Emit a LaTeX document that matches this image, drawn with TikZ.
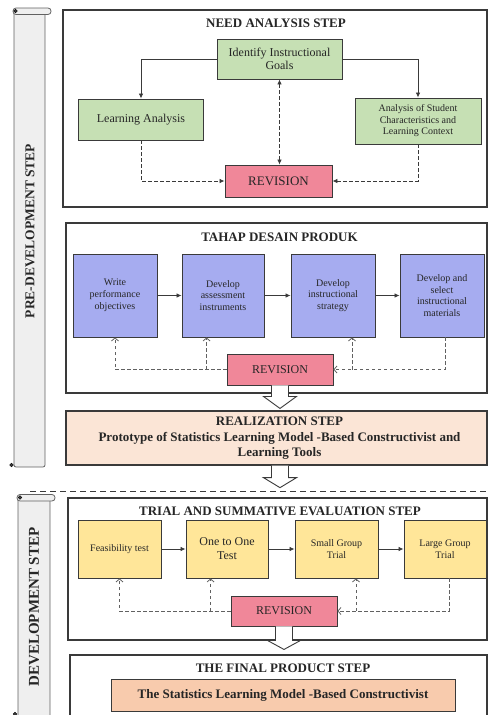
\documentclass[tikz,border=0pt]{standalone}
\usepackage{fontspec}
\setmainfont{Liberation Serif}
\usetikzlibrary{arrows.meta,calc}
\definecolor{gfill}{HTML}{C6E0B4}
\definecolor{bfill}{HTML}{A6ACF0}
\definecolor{pfill}{HTML}{F08799}
\definecolor{yfill}{HTML}{FFE699}
\definecolor{lpeach}{HTML}{FBE5D6}
\definecolor{dpeach}{HTML}{F8CBAD}
\definecolor{scrollfill}{HTML}{EFEFEF}
\definecolor{edgec}{HTML}{3A3A3A}
\tikzset{
  frame/.style={draw=edgec, line width=1.3pt, inner sep=0pt},
  stepbox/.style={draw=edgec, line width=0.9pt, align=center, inner sep=2pt, text=black!85},
  gbox/.style={stepbox, fill=gfill},
  bbox/.style={stepbox, fill=bfill, minimum width=84pt, minimum height=83pt, font=\fontsize{10}{11.8}\selectfont},
  ybox/.style={stepbox, fill=yfill, minimum width=83pt, minimum height=58pt, font=\fontsize{10}{11.5}\selectfont},
  revbox/.style={stepbox, fill=pfill, minimum width=106pt, minimum height=31pt, font=\fontsize{12}{13}\selectfont},
  title/.style={font=\bfseries\fontsize{13}{14}\selectfont, text=black!85, inner sep=0pt},
  solidarr/.style={draw=edgec, line width=0.8pt, -{Latex[length=5pt,width=4.5pt]}},
  dasharr/.style={draw=edgec, line width=0.8pt, dash pattern=on 3.5pt off 2.5pt, -{Latex[length=5pt,width=4.5pt]}},
  openarr/.style={draw=edgec!80, line width=0.8pt, dash pattern=on 3.5pt off 2.5pt, -{Straight Barb[length=3pt,width=7pt]}},
  blockarrow/.style={draw=edgec, line width=0.9pt, fill=white, line join=miter},
  scroll/.style={draw=edgec!80, line width=0.8pt, fill=scrollfill},
}
\begin{document}
\begin{tikzpicture}[x=1pt,y=-1pt]
\useasboundingbox (0,0) rectangle (489,715);

% ---------- scrolls ----------
\filldraw[scroll, rounded corners=2pt] (14,12) rectangle (45,467);
\filldraw[scroll, rounded corners=3pt] (13,8) rectangle (51,14.5);
\filldraw[fill=edgec] (15.5,11) circle (1.8pt);
\filldraw[fill=edgec] (11.5,465) circle (1.8pt);
\node[rotate=90, font=\bfseries\fontsize{13.5}{14}\selectfont, text=black!85] (pre) at (30,231) {PRE-DEVELOPMENT STEP};

\filldraw[scroll, rounded corners=2pt] (18,498) rectangle (50,722);
\filldraw[scroll, rounded corners=3pt] (17,494.5) rectangle (55,501);
\filldraw[fill=edgec] (20,497.5) circle (1.8pt);
\filldraw[fill=edgec] (15,714) circle (1.8pt);
\node[rotate=90, font=\bfseries\fontsize{15}{16}\selectfont, text=black!85] (dev) at (34,607) {DEVELOPMENT STEP};

% ---------- box 1 ----------
\node[frame, minimum width=424pt, minimum height=197pt] (box1) at (275,108.5) {};
\node[title] (t1) at (276,23) {NEED ANALYSIS STEP};
\node[gbox, minimum width=125pt, minimum height=40pt, font=\fontsize{12}{13.5}\selectfont] (ia) at (279.5,59) {Identify Instructional\\Goals};
\node[gbox, minimum width=125pt, minimum height=41pt, font=\fontsize{12}{13}\selectfont] (la) at (141,119.5) {Learning Analysis};
\node[gbox, minimum width=126pt, minimum height=46pt, font=\fontsize{10}{11.5}\selectfont] (as) at (418,121) {Analysis of Student\\Characteristics and\\Learning Context};
\node[revbox, minimum width=107pt, minimum height=32pt, font=\fontsize{13}{14}\selectfont] (rev1) at (278.5,181) {REVISION};
\draw[solidarr] (ia.west) -| (la.north);
\draw[solidarr] (ia.east) -| (as.north);
\draw[dasharr] (la.south) |- (rev1.west);
\draw[dasharr] (as.south) |- (rev1.east);
\draw[dasharr, {Latex[length=5pt,width=4.5pt]}-{Latex[length=5pt,width=4.5pt]}] (ia.south) -- (ia.south |- rev1.north);

% ---------- box 2 ----------
\node[frame, minimum width=421pt, minimum height=170pt] (box2) at (276.5,308) {};
\node[title] (t2) at (279.5,237) {TAHAP DESAIN PRODUK};
\node[bbox] (w1) at (115,295.5) {Write\\performance\\objectives};
\node[bbox, minimum width=82pt] (w2) at (223,295.5) {Develop\\assessment\\instruments};
\node[bbox] (w3) at (333,295.5) {Develop\\instructional\\strategy};
\node[bbox] (w4) at (442,295.5) {Develop and\\select\\instructional\\materials};
\node[revbox] (rev2) at (280,369.5) {REVISION};
\draw[solidarr] (w1) -- (w2);
\draw[solidarr] (w2) -- (w3);
\draw[solidarr] (w3) -- (w4);
\coordinate (p2) at ([xshift=25pt]w2.south west);
\coordinate (p3) at ([xshift=19pt]w3.south);
\coordinate (p4) at ([xshift=3pt]w4.south);
\draw[openarr] (rev2.west) -| (w1.south);
\draw[openarr] (p2 |- rev2.west) -- (p2);
\draw[openarr] (p4) |- (rev2.east);
\draw[openarr] (p3 |- rev2.east) -- (p3);

% ---------- realization ----------
\node[frame, fill=lpeach, minimum width=421pt, minimum height=54pt] (real) at (276.5,438) {};
\node[title, align=center, font=\bfseries\fontsize{13}{15.5}\selectfont] (rt) at (279.5,438.5) {REALIZATION STEP\\Prototype of Statistics Learning Model -Based Constructivist and\\Learning Tools};

% ---------- dashed separator ----------
\coordinate (sepA) at (30,491);
\coordinate (sepB) at (489,491);
\draw[draw=edgec, line width=1pt, dash pattern=on 6pt off 4pt] (sepA) -- (sepB);

% ---------- box 3 ----------
\node[frame, minimum width=419pt, minimum height=142pt] (box3) at (277.5,569) {};
\node[title] (t3) at (280,511) {TRIAL AND SUMMATIVE EVALUATION STEP};
\node[ybox] (f1) at (119.5,549) {Feasibility test};
\node[ybox, minimum width=82pt, font=\fontsize{12}{14}\selectfont] (f2) at (227,549) {One to One\\Test};
\node[ybox] (f3) at (336.5,549) {Small Group\\Trial};
\node[ybox, minimum width=82pt] (f4) at (445,549) {Large Group\\Trial};
\node[revbox, minimum height=30pt] (rev3) at (284,611) {REVISION};
\draw[solidarr] (f1) -- (f2);
\draw[solidarr] (f2) -- (f3);
\draw[solidarr] (f3) -- (f4);
\coordinate (q2) at ([xshift=25pt]f2.south west);
\coordinate (q3) at ([xshift=19.5pt]f3.south);
\coordinate (q4) at ([xshift=4pt]f4.south);
\draw[openarr] (rev3.west) -| (f1.south);
\draw[openarr] (q2 |- rev3.west) -- (q2);
\draw[openarr] (q4) |- (rev3.east);
\draw[openarr] (q3 |- rev3.east) -- (q3);

% ---------- box 4 ----------
\node[frame, minimum width=417pt, minimum height=70pt] (box4) at (278.5,690) {};
\node[title] (t4) at (283,668) {THE FINAL PRODUCT STEP};
\node[stepbox, fill=dpeach, minimum width=344pt, minimum height=32pt, font=\bfseries\fontsize{13}{14}\selectfont] (fin) at (283,695) {The Statistics Learning Model -Based Constructivist};

% ---------- block arrows ----------
\draw[blockarrow] ([xshift=-8.5pt]rev2.south) -- ++(0,11) -- ++(-8,0) -- ++(16.5,12) -- ++(16.5,-12) -- ++(-8,0) -- ++(0,-11);
\draw[blockarrow] ([xshift=-5pt]real.south) -- ++(0,12) -- ++(-8,0) -- ++(16.5,10) -- ++(16.5,-10) -- ++(-8,0) -- ++(0,-12);
\draw[blockarrow] ([xshift=-8.5pt]rev3.south) -- ++(0,14) -- ++(-8,0) -- ++(16.5,9) -- ++(16.5,-9) -- ++(-8,0) -- ++(0,-14);
\end{tikzpicture}
\end{document}
